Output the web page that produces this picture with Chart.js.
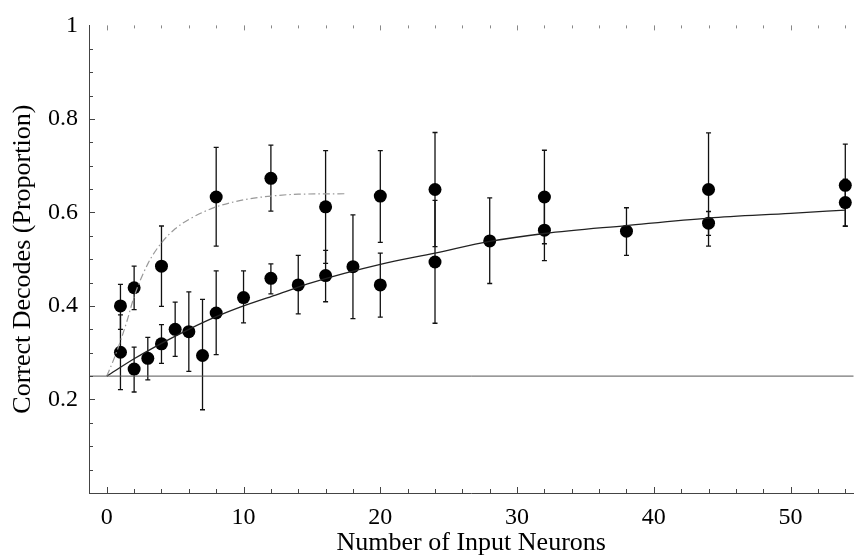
<!DOCTYPE html>
<html>
<head>
<meta charset="utf-8">
<script src="https://cdn.jsdelivr.net/npm/chart.js@4.4.1/dist/chart.umd.min.js"></script>
<style>
  html, body { margin: 0; padding: 0; background: #fff; }
</style>
</head>
<body>
<canvas id="chart" width="860" height="556"></canvas>
<script>
// upper group of decodes (follows the dotted fit)
const upperN   = [1, 2, 4, 8, 12, 16, 20, 24, 32, 44, 54];
const upperP   = [0.400, 0.439, 0.485, 0.633, 0.673, 0.612, 0.635, 0.649, 0.633, 0.649, 0.658];
const upperLow = [0.350, 0.392, 0.399, 0.528, 0.603, 0.491, 0.536, 0.527, 0.533, 0.528, 0.570];
const upperHigh= [0.446, 0.485, 0.571, 0.739, 0.744, 0.732, 0.732, 0.771, 0.733, 0.770, 0.746];

// lower group of decodes (follows the solid fit)
const lowerN   = [1, 2, 3, 4, 5, 6, 7, 8, 10, 12, 14, 16, 18, 20, 24, 28, 32, 38, 44, 54];
const lowerP   = [0.301, 0.265, 0.288, 0.319, 0.350, 0.345, 0.294, 0.385, 0.418, 0.459, 0.445, 0.465, 0.484, 0.445, 0.494, 0.539, 0.562, 0.560, 0.577, 0.621];
const lowerLow = [0.221, 0.216, 0.242, 0.277, 0.292, 0.260, 0.178, 0.296, 0.364, 0.426, 0.383, 0.409, 0.373, 0.376, 0.363, 0.448, 0.497, 0.508, 0.551, 0.571];
const lowerHigh= [0.381, 0.312, 0.333, 0.360, 0.408, 0.430, 0.414, 0.475, 0.475, 0.490, 0.508, 0.519, 0.595, 0.513, 0.626, 0.631, 0.627, 0.610, 0.602, 0.671];

// fitted curves
const dottedFitN = [0, 0.5, 1, 1.5, 2, 3, 4, 5, 6, 7, 8, 10, 12, 14, 17.5];
const dottedFitP = [0.25, 0.285, 0.325, 0.37, 0.42, 0.49, 0.535, 0.565, 0.585, 0.60, 0.612, 0.627, 0.635, 0.639, 0.640];
const solidFitN  = [0, 2, 4, 6, 8, 10, 12.5, 15, 20, 24, 28, 32, 38, 44, 50, 54];
const solidFitP  = [0.25, 0.287, 0.32, 0.35, 0.377, 0.40, 0.425, 0.45, 0.489, 0.513, 0.538, 0.555, 0.572, 0.588, 0.598, 0.605];

const chance = 0.25;

const xTickLabels = [0, 10, 20, 30, 40, 50];
const yTickLabels = ['0.2', '0.4', '0.6', '0.8', '1'];
const yTickValues = [0.2, 0.4, 0.6, 0.8, 1];
const xMinorTicks = [0, 2, 4, 6, 8, 10, 12, 14, 16, 18, 20, 22, 24, 26, 28, 30, 32, 34, 36, 38, 40, 42, 44, 46, 48, 50, 52, 54];
const yMinorTicks = [0.05, 0.1, 0.15, 0.2, 0.25, 0.3, 0.35, 0.4, 0.45, 0.5, 0.55, 0.6, 0.65, 0.7, 0.75, 0.8, 0.85, 0.9, 0.95];

const X_MIN = -1.3, X_MAX = 54.6;
const serif = "'Liberation Serif', 'DejaVu Serif', serif";

const pts = (xs, ys) => xs.map((x, i) => ({ x, y: ys[i] }));

const errorBars = {
  id: 'errorBars',
  beforeDatasetsDraw(chart) {
    const { ctx, scales: { x, y } } = chart;
    ctx.save();
    ctx.strokeStyle = '#111';
    ctx.lineWidth = 1.3;
    const draw = (ns, lo, hi) => ns.forEach((n, i) => {
      const px = x.getPixelForValue(n);
      const y1 = y.getPixelForValue(lo[i]);
      const y2 = y.getPixelForValue(hi[i]);
      ctx.beginPath();
      ctx.moveTo(px, y1); ctx.lineTo(px, y2);
      ctx.moveTo(px - 2.5, y1); ctx.lineTo(px + 2.5, y1);
      ctx.moveTo(px - 2.5, y2); ctx.lineTo(px + 2.5, y2);
      ctx.stroke();
    });
    draw(upperN, upperLow, upperHigh);
    draw(lowerN, lowerLow, lowerHigh);
    ctx.restore();
  }
};

const axisTicks = {
  id: 'axisTicks',
  afterDraw(chart) {
    const { ctx, chartArea: a, scales: { x, y } } = chart;
    ctx.save();
    ctx.lineWidth = 1;
    ctx.strokeStyle = '#444';
    xMinorTicks.forEach((v) => {
      const px = Math.round(x.getPixelForValue(v)) + 0.5;
      const len = v % 10 === 0 ? 6 : 4;
      ctx.beginPath();
      ctx.moveTo(px, a.bottom); ctx.lineTo(px, a.bottom - len);
      ctx.stroke();
      ctx.save();
      ctx.strokeStyle = '#888';
      ctx.beginPath();
      ctx.moveTo(px, a.top); ctx.lineTo(px, a.top + len - 1);
      ctx.stroke();
      ctx.restore();
    });
    yMinorTicks.forEach((v) => {
      const py = Math.round(y.getPixelForValue(v)) + 0.5;
      const major = Math.abs(v * 5 - Math.round(v * 5)) < 1e-6;
      ctx.beginPath();
      ctx.moveTo(a.left, py); ctx.lineTo(a.left + (major ? 6 : 4), py);
      ctx.stroke();
    });
    ctx.restore();
  }
};

new Chart(document.getElementById('chart'), {
  type: 'scatter',
  data: {
    datasets: [
      {
        label: 'chance',
        data: [{ x: X_MIN, y: chance }, { x: X_MAX, y: chance }],
        showLine: true, borderColor: '#555', borderWidth: 1, pointRadius: 0, clip: false
      },
      {
        label: 'dotted fit',
        data: pts(dottedFitN, dottedFitP),
        showLine: true, borderColor: '#999', borderWidth: 1.2, borderDash: [7, 3, 1.5, 3],
        pointRadius: 0, cubicInterpolationMode: 'monotone'
      },
      {
        label: 'solid fit',
        data: pts(solidFitN, solidFitP),
        showLine: true, borderColor: '#222', borderWidth: 1.3,
        pointRadius: 0, cubicInterpolationMode: 'monotone', clip: false
      },
      {
        label: 'upper',
        data: pts(upperN, upperP),
        pointRadius: 6.5, pointBackgroundColor: '#000', pointBorderColor: '#000', borderWidth: 0, clip: false
      },
      {
        label: 'lower',
        data: pts(lowerN, lowerP),
        pointRadius: 6.5, pointBackgroundColor: '#000', pointBorderColor: '#000', borderWidth: 0, clip: false
      }
    ]
  },
  options: {
    responsive: false,
    animation: false,
    layout: { padding: { top: 13, right: 0, bottom: 0, left: 0 } },
    plugins: { legend: { display: false }, tooltip: { enabled: false } },
    scales: {
      x: {
        type: 'linear', min: X_MIN, max: X_MAX,
        border: { display: true, color: '#444', width: 1 },
        grid: { display: false, drawTicks: false },
        afterBuildTicks: (s) => { s.ticks = xTickLabels.map((v) => ({ value: v })); },
        afterFit: (s) => { s.height = 63; },
        ticks: { color: '#000', font: { family: serif, size: 24 }, padding: 10, maxRotation: 0, autoSkip: false },
        title: { display: true, text: 'Number of Input Neurons', color: '#000', font: { family: serif, size: 26 }, padding: { top: 0, bottom: -3 } }
      },
      y: {
        type: 'linear', min: 0, max: 1,
        border: { display: true, color: '#444', width: 1 },
        grid: { display: false, drawTicks: false },
        afterBuildTicks: (s) => { s.ticks = yTickValues.map((v) => ({ value: v })); },
        afterFit: (s) => { s.width = 89; },
        ticks: { color: '#000', font: { family: serif, size: 24 }, padding: 11, autoSkip: false,
                 callback: (v, i) => yTickLabels[i] },
        title: { display: true, text: 'Correct Decodes (Proportion)', color: '#000', font: { family: serif, size: 26 }, padding: { top: 8, bottom: 0 } }
      }
    }
  },
  plugins: [errorBars, axisTicks]
});
</script>
</body>
</html>
